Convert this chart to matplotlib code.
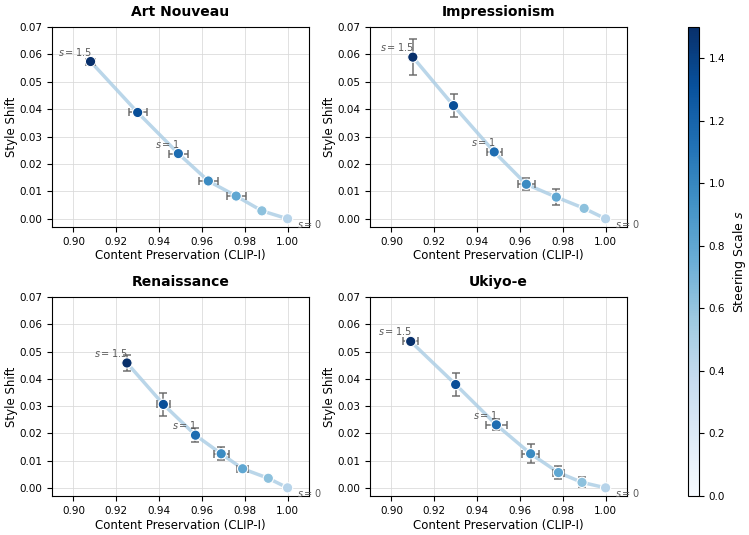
import numpy as np
import matplotlib
matplotlib.use('Agg')
import matplotlib.pyplot as plt
from matplotlib.colors import Normalize

scales = [0.0, 0.25, 0.5, 0.75, 1.0, 1.25, 1.5]
styles = ['Art Nouveau', 'Impressionism', 'Renaissance', 'Ukiyo-e']

# content preservation (CLIP-I) per steering scale, s = 0 ... 1.5
clip_art = [1.000, 0.988, 0.976, 0.963, 0.949, 0.930, 0.908]
clip_imp = [1.000, 0.990, 0.977, 0.963, 0.948, 0.929, 0.910]
clip_ren = [1.000, 0.991, 0.979, 0.969, 0.957, 0.942, 0.925]
clip_uki = [1.000, 0.989, 0.978, 0.965, 0.949, 0.930, 0.909]

clip_err_art = [0.0, 0.0, 0.0045, 0.0045, 0.0045, 0.0042, 0.0022]
clip_err_imp = [0.0, 0.0, 0.0, 0.0040, 0.0035, 0.0, 0.0]
clip_err_ren = [0.0, 0.0, 0.0025, 0.0035, 0.0, 0.0030, 0.0]
clip_err_uki = [0.0, 0.0, 0.0026, 0.0040, 0.0048, 0.0, 0.0035]

# style shift per steering scale
shift_art = [0.0, 0.0029, 0.0083, 0.0138, 0.0238, 0.0388, 0.0574]
shift_imp = [0.0, 0.0038, 0.0079, 0.0126, 0.0244, 0.0413, 0.0590]
shift_ren = [0.0, 0.0035, 0.0070, 0.0125, 0.0193, 0.0306, 0.0458]
shift_uki = [0.0, 0.0020, 0.0056, 0.0125, 0.0231, 0.0379, 0.0537]

shift_err_art = [0.0, 0.0, 0.0006, 0.0006, 0.0006, 0.0006, 0.0008]
shift_err_imp = [0.0, 0.0, 0.0030, 0.0022, 0.0010, 0.0041, 0.0065]
shift_err_ren = [0.0, 0.0, 0.0010, 0.0023, 0.0026, 0.0043, 0.0028]
shift_err_uki = [0.0, 0.0018, 0.0024, 0.0035, 0.0020, 0.0043, 0.0010]

clips = [clip_art, clip_imp, clip_ren, clip_uki]
clip_errs = [clip_err_art, clip_err_imp, clip_err_ren, clip_err_uki]
shifts = [shift_art, shift_imp, shift_ren, shift_uki]
shift_errs = [shift_err_art, shift_err_imp, shift_err_ren, shift_err_uki]

cmap = plt.get_cmap('Blues')
norm = Normalize(vmin=0, vmax=1.5)

fig = plt.figure(figsize=(7.49, 5.35), dpi=100)
W, H = 749, 535
boxes = [(52, 27, 309, 227), (370, 27, 627, 227),
         (52, 297, 309, 496), (370, 297, 627, 496)]

s_arr = np.array(scales)
point_colors = cmap(0.3 + 0.7 * s_arr / 1.5)

for i, name in enumerate(styles):
    l, t, r, b = boxes[i]
    ax = fig.add_axes([l / W, 1 - b / H, (r - l) / W, (b - t) / H])
    x = np.array(clips[i])
    y = np.array(shifts[i])
    ax.plot(x, y, color='#a9cce4', lw=2.5, alpha=0.8, zorder=1)
    ax.errorbar(x, y, xerr=clip_errs[i], yerr=shift_errs[i], fmt='none',
                ecolor='0.4', elinewidth=1.2, capsize=3, capthick=1.2,
                alpha=0.85, zorder=2)
    ax.scatter(x, y, c=point_colors, s=55, edgecolors='white',
               linewidths=0.8, zorder=3)
    for s_val, lab in [(1.5, '$s=1.5$'), (1.0, '$s=1$')]:
        k = scales.index(s_val)
        ax.annotate(lab, (x[k], y[k]), xytext=(1, 4), textcoords='offset pixels',
                    ha='right', va='bottom', fontsize=7, color='0.35')
    k = scales.index(0.0)
    ax.annotate('$s=0$', (x[k], y[k]), xytext=(9, -5), textcoords='offset pixels',
                ha='left', va='center', fontsize=7, color='0.35',
                annotation_clip=False)
    ax.set_xlim(0.89, 1.01)
    ax.set_ylim(-0.003, 0.07)
    ax.set_xticks(np.arange(0.90, 1.001, 0.02))
    ax.set_yticks(np.arange(0.0, 0.0701, 0.01))
    ax.xaxis.set_major_formatter(matplotlib.ticker.FormatStrFormatter('%.2f'))
    ax.yaxis.set_major_formatter(matplotlib.ticker.FormatStrFormatter('%.2f'))
    ax.tick_params(labelsize=7.5)
    ax.grid(True, color='0.85', lw=0.7, alpha=0.8)
    ax.set_axisbelow(True)
    ax.set_title(name, fontsize=10, fontweight='bold', pad=8)
    ax.set_xlabel('Content Preservation (CLIP-I)', fontsize=8.5, labelpad=2)
    ax.set_ylabel('Style Shift', fontsize=8.5, labelpad=1)

cax = fig.add_axes([688 / W, 1 - 496 / H, 11 / W, (496 - 27) / H])
sm = plt.cm.ScalarMappable(cmap=cmap, norm=norm)
cb = fig.colorbar(sm, cax=cax)
cb.set_label('Steering Scale $s$', fontsize=9)
cb.ax.tick_params(labelsize=7.5)

fig.savefig('out.png', dpi=100)
